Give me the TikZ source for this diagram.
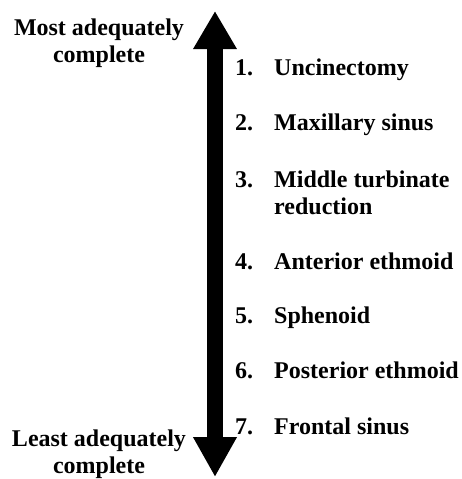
\documentclass[tikz,border=0pt]{standalone}
\usepackage{fontspec}
\setmainfont{Liberation Serif}
\usetikzlibrary{arrows.meta}

\begin{document}
\begin{tikzpicture}[
      x=1pt, y=-1pt,
      every node/.style={font=\fontsize{24}{27}\selectfont\bfseries, inner sep=0pt},
      endlabel/.style={align=center, anchor=base},
      num/.style={anchor=base west},
      item/.style={anchor=base west, align=left},
      scale arrow/.style={line width=16pt,
        {Triangle[length=38pt, width=41pt]}-{Triangle[length=40pt, width=41pt]}},
    ]
    \useasboundingbox (0,0) rectangle (461,479);

    % the scale
    \coordinate (top) at (215,11);
    \coordinate (bottom) at (215,477);
    \draw[scale arrow] (top) -- (bottom);

    % base anchor sits on the last line
    \node[endlabel] (most)  at (99,62)  {Most adequately\\complete};
    \node[endlabel] (least) at (99,473) {Least adequately\\complete};

    % ranked steps
    \node[num] (n1) at (235,75)  {1.};
    \node[num] (n2) at (235,130) {2.};
    \node[num] (n3) at (235,187) {3.};
    \node[num] (n4) at (235,269) {4.};
    \node[num] (n5) at (235,323) {5.};
    \node[num] (n6) at (235,378) {6.};
    \node[num] (n7) at (235,434) {7.};

    \node[item] (i1) at (274,75)  {Uncinectomy};
    \node[item] (i2) at (274,130) {Maxillary sinus};
    \node[item] (i3) at (274,214) {Middle turbinate\\reduction};
    \node[item] (i4) at (274,269) {Anterior ethmoid};
    \node[item] (i5) at (274,323) {Sphenoid};
    \node[item] (i6) at (274,378) {Posterior ethmoid};
    \node[item] (i7) at (274,434) {Frontal sinus};
  \end{tikzpicture}
\end{document}
